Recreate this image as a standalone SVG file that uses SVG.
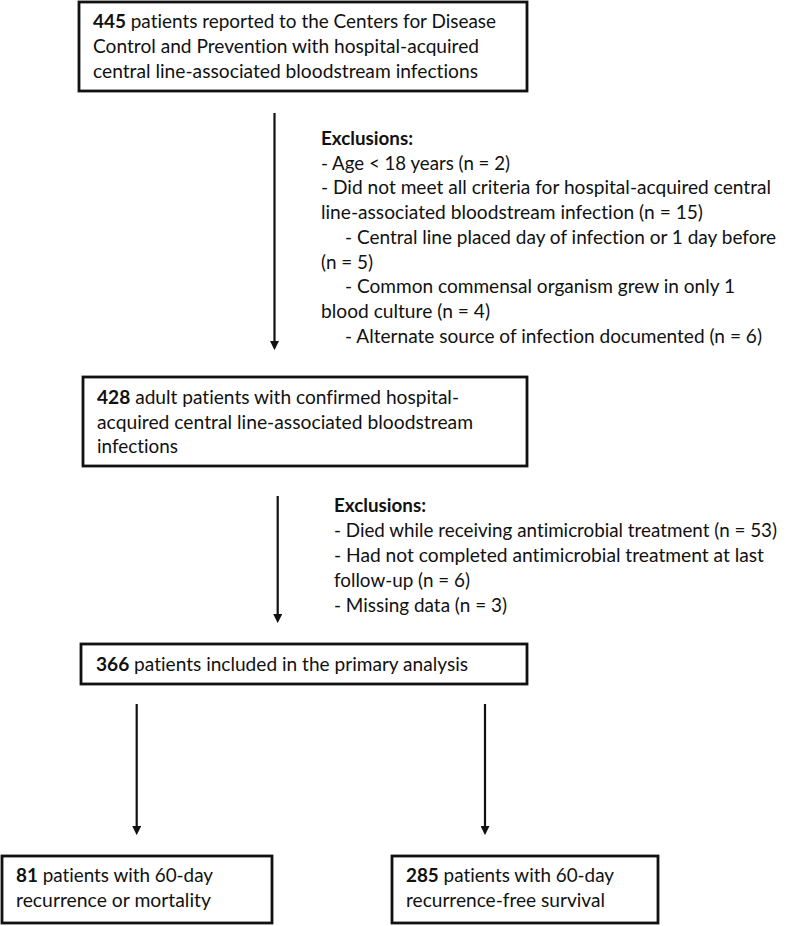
<svg xmlns="http://www.w3.org/2000/svg" width="787" height="926" viewBox="0 0 787 926">
<style>
.box{fill:#fff;stroke:#111;stroke-width:2.8}
.t{font-family:Lato,"Liberation Sans",sans-serif;font-size:19.5px;fill:#111;font-variant-ligatures:none;font-feature-settings:"liga" 0}
.b{font-weight:bold}
.conn{stroke:#111;stroke-width:2.2;fill:none;marker-end:url(#ah)}
</style>
<defs>
<marker id="ah" viewBox="0 0 10 10" refX="1" refY="5" markerWidth="9" markerHeight="9" markerUnits="userSpaceOnUse" orient="auto">
<path d="M0,0 L10,5 L0,10 z" fill="#111"/>
</marker>
</defs>
<rect width="787" height="926" fill="#fff"/>

<g id="connectors">
<line class="conn" x1="274.5" y1="113" x2="274.5" y2="342"/>
<line class="conn" x1="277.7" y1="496" x2="277.7" y2="615"/>
<line class="conn" x1="136.7" y1="704" x2="136.7" y2="827"/>
<line class="conn" x1="485" y1="704" x2="485" y2="827"/>
</g>

<g id="node-445">
<rect class="box" x="79" y="2" width="448" height="89"/>
<text class="t" x="93" y="28" textLength="403" lengthAdjust="spacingAndGlyphs"><tspan class="b">445</tspan> patients reported to the Centers for Disease</text>
<text class="t" x="93" y="53" textLength="386" lengthAdjust="spacingAndGlyphs">Control and Prevention with hospital-acquired</text>
<text class="t" x="93" y="78" textLength="385" lengthAdjust="spacingAndGlyphs">central line-associated bloodstream infections</text>
</g>

<g id="exclusions-1">
<text class="t b" x="321" y="145" textLength="92" lengthAdjust="spacingAndGlyphs">Exclusions:</text>
<text class="t" x="321" y="169.5" textLength="189" lengthAdjust="spacingAndGlyphs">- Age &lt; 18 years (n = 2)</text>
<text class="t" x="321" y="194.3" textLength="450" lengthAdjust="spacingAndGlyphs">- Did not meet all criteria for hospital-acquired central</text>
<text class="t" x="321" y="219" textLength="382" lengthAdjust="spacingAndGlyphs">line-associated bloodstream infection (n = 15)</text>
<text class="t" x="345" y="244" textLength="431" lengthAdjust="spacingAndGlyphs">- Central line placed day of infection or 1 day before</text>
<text class="t" x="321" y="268.7" textLength="52" lengthAdjust="spacingAndGlyphs">(n = 5)</text>
<text class="t" x="345" y="293.4" textLength="390" lengthAdjust="spacingAndGlyphs">- Common commensal organism grew in only 1</text>
<text class="t" x="321" y="318" textLength="169" lengthAdjust="spacingAndGlyphs">blood culture (n = 4)</text>
<text class="t" x="345" y="342.7" textLength="417" lengthAdjust="spacingAndGlyphs">- Alternate source of infection documented (n = 6)</text>
</g>

<g id="node-428">
<rect class="box" x="83" y="377" width="444" height="89"/>
<text class="t" x="97" y="404" textLength="362" lengthAdjust="spacingAndGlyphs"><tspan class="b">428</tspan> adult patients with confirmed hospital-</text>
<text class="t" x="97" y="428.5" textLength="376" lengthAdjust="spacingAndGlyphs">acquired central line-associated bloodstream</text>
<text class="t" x="97" y="453" textLength="81" lengthAdjust="spacingAndGlyphs">infections</text>
</g>

<g id="exclusions-2">
<text class="t b" x="334" y="512" textLength="92" lengthAdjust="spacingAndGlyphs">Exclusions:</text>
<text class="t" x="334" y="537" style="font-size:18.5px" textLength="443" lengthAdjust="spacingAndGlyphs">- Died while receiving antimicrobial treatment (n = 53)</text>
<text class="t" x="334" y="562" textLength="430" lengthAdjust="spacingAndGlyphs">- Had not completed antimicrobial treatment at last</text>
<text class="t" x="334" y="587" textLength="136" lengthAdjust="spacingAndGlyphs">follow-up (n = 6)</text>
<text class="t" x="334" y="611.7" textLength="173" lengthAdjust="spacingAndGlyphs">- Missing data (n = 3)</text>
</g>

<g id="node-366">
<rect class="box" x="81" y="644" width="446" height="40"/>
<text class="t" x="96" y="671" textLength="372" lengthAdjust="spacingAndGlyphs"><tspan class="b">366</tspan> patients included in the primary analysis</text>
</g>

<g id="node-81">
<rect class="box" x="2" y="856" width="270" height="67"/>
<text class="t" x="16" y="882" textLength="197" lengthAdjust="spacingAndGlyphs"><tspan class="b">81</tspan> patients with 60-day</text>
<text class="t" x="16" y="906.5" textLength="195" lengthAdjust="spacingAndGlyphs">recurrence or mortality</text>
</g>

<g id="node-285">
<rect class="box" x="392" y="856" width="266" height="67"/>
<text class="t" x="406" y="882" textLength="208" lengthAdjust="spacingAndGlyphs"><tspan class="b">285</tspan> patients with 60-day</text>
<text class="t" x="406" y="906.5" textLength="199" lengthAdjust="spacingAndGlyphs">recurrence-free survival</text>
</g>
</svg>
